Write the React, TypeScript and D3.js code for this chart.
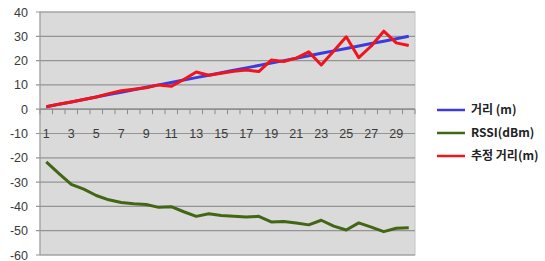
import React, { useEffect, useRef } from 'react';
import * as d3 from 'd3';

const categories = d3.range(1, 31).map(String);
const distance = [1, 2, 3, 4, 5, 6, 7, 8, 9, 10, 11, 12, 13, 14, 15, 16, 17, 18, 19, 20, 21, 22, 23, 24, 25, 26, 27, 28, 29, 30];
const rssi = [-21.7, -26.4, -30.9, -32.9, -35.5, -37.3, -38.4, -38.9, -39.2, -40.4, -40.1, -42.2, -44.1, -43, -43.7, -44.1, -44.4, -44.1, -46.4, -46.2, -46.8, -47.6, -45.7, -48.1, -49.7, -46.8, -48.5, -50.4, -49, -48.8];
const estimated = [1, 2, 3, 4, 5, 6.4, 7.6, 8.2, 8.8, 10, 9.4, 12.2, 15.3, 14, 14.8, 15.6, 16.1, 15.5, 20.2, 19.6, 21, 23.6, 18.2, 24, 29.8, 21.2, 26, 32.1, 27.3, 26.2];
const yTicks = [40, 30, 20, 10, 0, -10, -20, -30, -40, -50, -60];

const series = [
  { name: '거리 (m)', values: distance, color: '#3c3cdc' },
  { name: 'RSSI(dBm)', values: rssi, color: '#426614' },
  { name: '추정 거리(m)', values: estimated, color: '#f0141c' },
];

const Chart = () => {
  const svgRef = useRef<SVGSVGElement>(null);

  useEffect(() => {
    const svg = d3.select(svgRef.current);
    svg.selectAll('*').remove();

    const left = 40, right = 415, top = 12, bottom = 255;

    const x = d3.scaleBand().domain(categories).range([left, right]);
    const y = d3.scaleLinear().domain([-60, 40]).range([bottom, top]);

    // plot area
    svg.append('rect')
      .attr('x', left).attr('y', top)
      .attr('width', right - left).attr('height', bottom - top)
      .attr('fill', '#dadada')
      .attr('stroke', '#c4c4c4');

    // gridlines
    svg.append('g')
      .selectAll('line')
      .data(yTicks)
      .enter()
      .append('line')
      .attr('x1', left - 4).attr('x2', right)
      .attr('y1', d => y(d)).attr('y2', d => y(d))
      .attr('stroke', '#949494')
      .attr('stroke-width', 1.2);

    // y axis line
    svg.append('line')
      .attr('x1', left).attr('x2', left)
      .attr('y1', top).attr('y2', bottom)
      .attr('stroke', '#9a9a9a');

    svg.append('g')
      .selectAll('text')
      .data(yTicks)
      .enter()
      .append('text')
      .attr('x', 28)
      .attr('y', d => y(d))
      .attr('dy', '0.36em')
      .attr('text-anchor', 'end')
      .attr('font-family', 'Liberation Sans, Arial, sans-serif')
      .attr('font-size', 12.5)
      .attr('fill', '#3a3a3a')
      .text(d => d);

    // x axis at zero
    const x0 = y(0);
    svg.append('line')
      .attr('x1', left).attr('x2', right)
      .attr('y1', x0).attr('y2', x0)
      .attr('stroke', '#8a8a8a')
      .attr('stroke-width', 1.2);

    svg.append('g')
      .selectAll('line')
      .data(categories.concat(['end']))
      .enter()
      .append('line')
      .attr('x1', (d, i) => left + i * x.bandwidth())
      .attr('x2', (d, i) => left + i * x.bandwidth())
      .attr('y1', x0).attr('y2', x0 + 5)
      .attr('stroke', '#8a8a8a');

    svg.append('g')
      .selectAll('text')
      .data(categories.filter((d, i) => i % 2 === 0))
      .enter()
      .append('text')
      .attr('x', d => x(d)! + x.bandwidth() / 2)
      .attr('y', y(-10))
      .attr('dy', '0.36em')
      .attr('text-anchor', 'middle')
      .attr('font-family', 'Liberation Sans, Arial, sans-serif')
      .attr('font-size', 12.5)
      .attr('fill', '#3a3a3a')
      .text(d => d);

    // lines
    const line = d3.line<number>()
      .x((d, i) => x(categories[i])! + x.bandwidth() / 2)
      .y(d => y(d));

    series.forEach(s => {
      svg.append('path')
        .datum(s.values)
        .attr('d', line)
        .attr('fill', 'none')
        .attr('stroke', s.color)
        .attr('stroke-width', 3)
        .attr('stroke-linejoin', 'round');
    });

    // legend
    const legend = svg.append('g')
      .selectAll('g')
      .data(series)
      .enter()
      .append('g')
      .attr('transform', (d, i) => `translate(437, ${110 + i * 23})`);

    legend.append('line')
      .attr('x1', 0).attr('x2', 28)
      .attr('stroke', d => d.color)
      .attr('stroke-width', 2.5);

    legend.append('text')
      .attr('x', 34)
      .attr('dy', '0.36em')
      .attr('font-family', 'Noto Sans CJK KR, sans-serif')
      .attr('font-size', 12)
      .attr('font-weight', 'bold')
      .attr('fill', '#222')
      .text(d => d.name);
  }, []);

  return (
    <svg ref={svgRef} width="545" height="261"
      style={{ position: 'absolute', left: 0, top: 0, background: '#fff' }} />
  );
};

export default function App() {
  return <Chart />;
}
